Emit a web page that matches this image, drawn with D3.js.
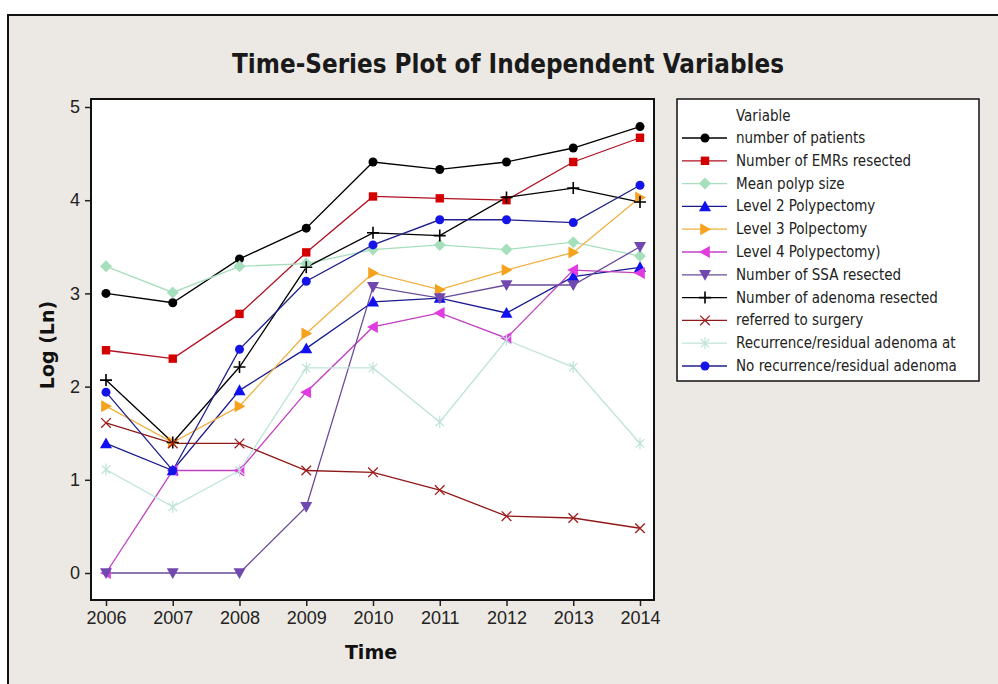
<!DOCTYPE html>
<html>
<head>
<meta charset="utf-8">
<script src="https://cdn.jsdelivr.net/npm/d3@7"></script>
<style>
  body { margin: 0; background: #fff; }
  svg { display: block; }
</style>
</head>
<body>
<svg id="chart"></svg>
<script>
// years on the x axis
var years = [2006, 2007, 2008, 2009, 2010, 2011, 2012, 2013, 2014];
var yTicks = [0, 1, 2, 3, 4, 5];

// one array per variable, Log (Ln) values
var patients      = [3.00, 2.90, 3.37, 3.70, 4.41, 4.33, 4.41, 4.56, 4.79];
var emrs          = [2.39, 2.30, 2.78, 3.44, 4.04, 4.02, 4.00, 4.41, 4.67];
var polypSize     = [3.29, 3.01, 3.29, 3.32, 3.47, 3.52, 3.47, 3.55, 3.40];
var level2        = [1.39, 1.10, 1.96, 2.41, 2.91, 2.95, 2.79, 3.18, 3.28];
var level3        = [1.79, 1.40, 1.79, 2.57, 3.22, 3.04, 3.25, 3.44, 4.03];
var level4        = [0.00, 1.10, 1.10, 1.94, 2.64, 2.79, 2.52, 3.25, 3.22];
var ssa           = [0.00, 0.00, 0.00, 0.71, 3.07, 2.95, 3.09, 3.09, 3.50];
var adenoma       = [2.07, 1.40, 2.21, 3.28, 3.65, 3.62, 4.03, 4.13, 3.98];
var surgery       = [1.61, 1.39, 1.39, 1.10, 1.08, 0.89, 0.61, 0.59, 0.48];
var recurrence    = [1.11, 0.71, 1.10, 2.20, 2.20, 1.62, 2.50, 2.21, 1.39];
var noRecurrence  = [1.94, 1.10, 2.40, 3.13, 3.52, 3.79, 3.79, 3.76, 4.16];

var seriesNames = ["number of patients", "Number of EMRs resected", "Mean polyp size",
  "Level 2 Polypectomy", "Level 3 Polpectomy", "Level 4 Polypectomy)",
  "Number of SSA resected", "Number of adenoma resected", "referred to surgery",
  "Recurrence/residual adenoma at", "No recurrence/residual adenoma"];
var seriesValues = [patients, emrs, polypSize, level2, level3, level4, ssa, adenoma,
  surgery, recurrence, noRecurrence];
var markColors = ["#000000", "#d40000", "#a6dfbc", "#1010f0", "#f5a21e", "#e03ce0",
  "#7048b0", "#000000", "#a01c1c", "#bfe3da", "#1414e8"];
var lineColors = ["#000000", "#b01020", "#a6dfbc", "#1a1a90", "#f0b040", "#c040c0",
  "#6a4a9a", "#000000", "#901818", "#bfe3da", "#20208a"];
var shapes = ["circle", "square", "diamond", "triUp", "triRight", "triLeft", "triDown",
  "plus", "cross", "star", "circle"];

var W = 998, H = 684;
var svg = d3.select("#chart").attr("width", W).attr("height", H);

// grey window panel
svg.append("rect").attr("x", 8).attr("y", 15).attr("width", W).attr("height", H)
  .attr("fill", "#ece9e4").attr("stroke", "#111").attr("stroke-width", 2);

var plot = {left: 91, top: 99, right: 654, bottom: 600};

var x = d3.scaleLinear().domain([2006, 2014]).range([106, 640]);
var y = d3.scaleLinear().domain([0, 5]).range([573, 107]);

svg.append("rect")
  .attr("x", plot.left).attr("y", plot.top)
  .attr("width", plot.right - plot.left).attr("height", plot.bottom - plot.top)
  .attr("fill", "#fff");

// title
var title = svg.append("text")
  .attr("x", 508).attr("y", 73)
  .attr("text-anchor", "middle")
  .attr("font-family", "'DejaVu Sans Condensed', 'DejaVu Sans', sans-serif")
  .attr("font-weight", "bold")
  .attr("font-size", 24)
  .attr("fill", "#1a1a1a")
  .text("Time-Series Plot of Independent Variables");
var tw = title.node().getComputedTextLength();
title.attr("font-size", 24 * 552 / tw);

// axes
var xAxis = d3.axisBottom(x).tickValues(years).tickFormat(d3.format("d"))
  .tickSizeInner(6).tickSizeOuter(0).tickPadding(5);
var yAxis = d3.axisLeft(y).tickValues(yTicks).tickFormat(d3.format("d"))
  .tickSizeInner(6).tickSizeOuter(0).tickPadding(5);

var gx = svg.append("g").attr("transform", "translate(0," + plot.bottom + ")").call(xAxis);
var gy = svg.append("g").attr("transform", "translate(" + plot.left + ",0)").call(yAxis);
[gx, gy].forEach(function(g) {
  g.select(".domain").remove();
  g.selectAll("line").attr("stroke", "#222").attr("stroke-width", 1.5);
  g.selectAll("text")
    .attr("font-family", "'Liberation Sans', sans-serif")
    .attr("font-size", 18).attr("fill", "#222");
});

// axis labels
svg.append("text").attr("x", 371).attr("y", 659)
  .attr("text-anchor", "middle")
  .attr("font-family", "'DejaVu Sans', sans-serif").attr("font-weight", "bold")
  .attr("font-size", 19).attr("fill", "#111").text("Time");
svg.append("text")
  .attr("transform", "translate(54,345) rotate(-90)")
  .attr("text-anchor", "middle")
  .attr("font-family", "'DejaVu Sans', sans-serif").attr("font-weight", "bold")
  .attr("font-size", 19).attr("fill", "#111").text("Log (Ln)");

// marker symbols
function marker(g, shape, color, size) {
  var s = size;
  if (shape === "circle") {
    g.append("circle").attr("r", s * 0.75).attr("fill", color);
  } else if (shape === "square") {
    g.append("rect").attr("x", -s * 0.7).attr("y", -s * 0.7)
      .attr("width", s * 1.4).attr("height", s * 1.4).attr("fill", color);
  } else if (shape === "diamond") {
    g.append("path").attr("d", "M0," + (-s) + "L" + s + ",0L0," + s + "L" + (-s) + ",0Z")
      .attr("fill", color);
  } else if (shape === "triUp") {
    g.append("path").attr("d", "M0," + (-s) + "L" + s + "," + (s * 0.8) + "L" + (-s) + "," + (s * 0.8) + "Z")
      .attr("fill", color);
  } else if (shape === "triDown") {
    g.append("path").attr("d", "M0," + s + "L" + s + "," + (-s * 0.8) + "L" + (-s) + "," + (-s * 0.8) + "Z")
      .attr("fill", color);
  } else if (shape === "triRight") {
    g.append("path").attr("d", "M" + s + ",0L" + (-s * 0.8) + "," + s + "L" + (-s * 0.8) + "," + (-s) + "Z")
      .attr("fill", color);
  } else if (shape === "triLeft") {
    g.append("path").attr("d", "M" + (-s) + ",0L" + (s * 0.8) + "," + s + "L" + (s * 0.8) + "," + (-s) + "Z")
      .attr("fill", color);
  } else if (shape === "plus") {
    g.append("path").attr("d", "M" + (-s) + ",0H" + s + "M0," + (-s) + "V" + s)
      .attr("stroke", color).attr("stroke-width", 1.6).attr("fill", "none");
  } else if (shape === "cross") {
    var c = s * 0.8;
    g.append("path").attr("d", "M" + (-c) + "," + (-c) + "L" + c + "," + c + "M" + (-c) + "," + c + "L" + c + "," + (-c))
      .attr("stroke", color).attr("stroke-width", 1.3).attr("fill", "none");
  } else if (shape === "star") {
    var c2 = s * 0.7;
    g.append("path").attr("d", "M" + (-c2) + "," + (-c2) + "L" + c2 + "," + c2 + "M" + (-c2) + "," + c2 + "L" + c2 + "," + (-c2) +
      "M0," + (-s) + "V" + s)
      .attr("stroke", color).attr("stroke-width", 1.2).attr("fill", "none");
  }
}

var line = d3.line()
  .x(function(d, i) { return x(years[i]); })
  .y(function(d) { return y(d); });

seriesValues.forEach(function(vals, k) {
  svg.append("path")
    .datum(vals)
    .attr("d", line)
    .attr("fill", "none")
    .attr("stroke", lineColors[k])
    .attr("stroke-width", 1.3);
});
seriesValues.forEach(function(vals, k) {
  vals.forEach(function(v, i) {
    var g = svg.append("g").attr("transform", "translate(" + x(years[i]) + "," + y(v) + ")");
    marker(g, shapes[k], markColors[k], 6);
  });
});

// plot frame
svg.append("rect")
  .attr("x", plot.left).attr("y", plot.top)
  .attr("width", plot.right - plot.left).attr("height", plot.bottom - plot.top)
  .attr("fill", "none").attr("stroke", "#111").attr("stroke-width", 2);

// legend
var lg = svg.append("g");
lg.append("rect").attr("x", 677).attr("y", 99).attr("width", 302).attr("height", 282)
  .attr("fill", "#fff").attr("stroke", "#111").attr("stroke-width", 1.5);
lg.append("text").attr("x", 736).attr("y", 121)
  .attr("font-family", "'DejaVu Sans Condensed', 'DejaVu Sans', sans-serif")
  .attr("font-size", 15).attr("fill", "#222").text("Variable");
seriesNames.forEach(function(name, k) {
  var cy = 138 + k * 22.8;
  lg.append("line").attr("x1", 682).attr("x2", 727).attr("y1", cy).attr("y2", cy)
    .attr("stroke", lineColors[k]).attr("stroke-width", 1.3);
  var g = lg.append("g").attr("transform", "translate(705," + cy + ")");
  marker(g, shapes[k], markColors[k], 6);
  lg.append("text").attr("x", 736).attr("y", cy + 5)
    .attr("font-family", "'DejaVu Sans Condensed', 'DejaVu Sans', sans-serif")
    .attr("font-size", 15).attr("fill", "#222").text(name);
});
</script>
</body>
</html>
